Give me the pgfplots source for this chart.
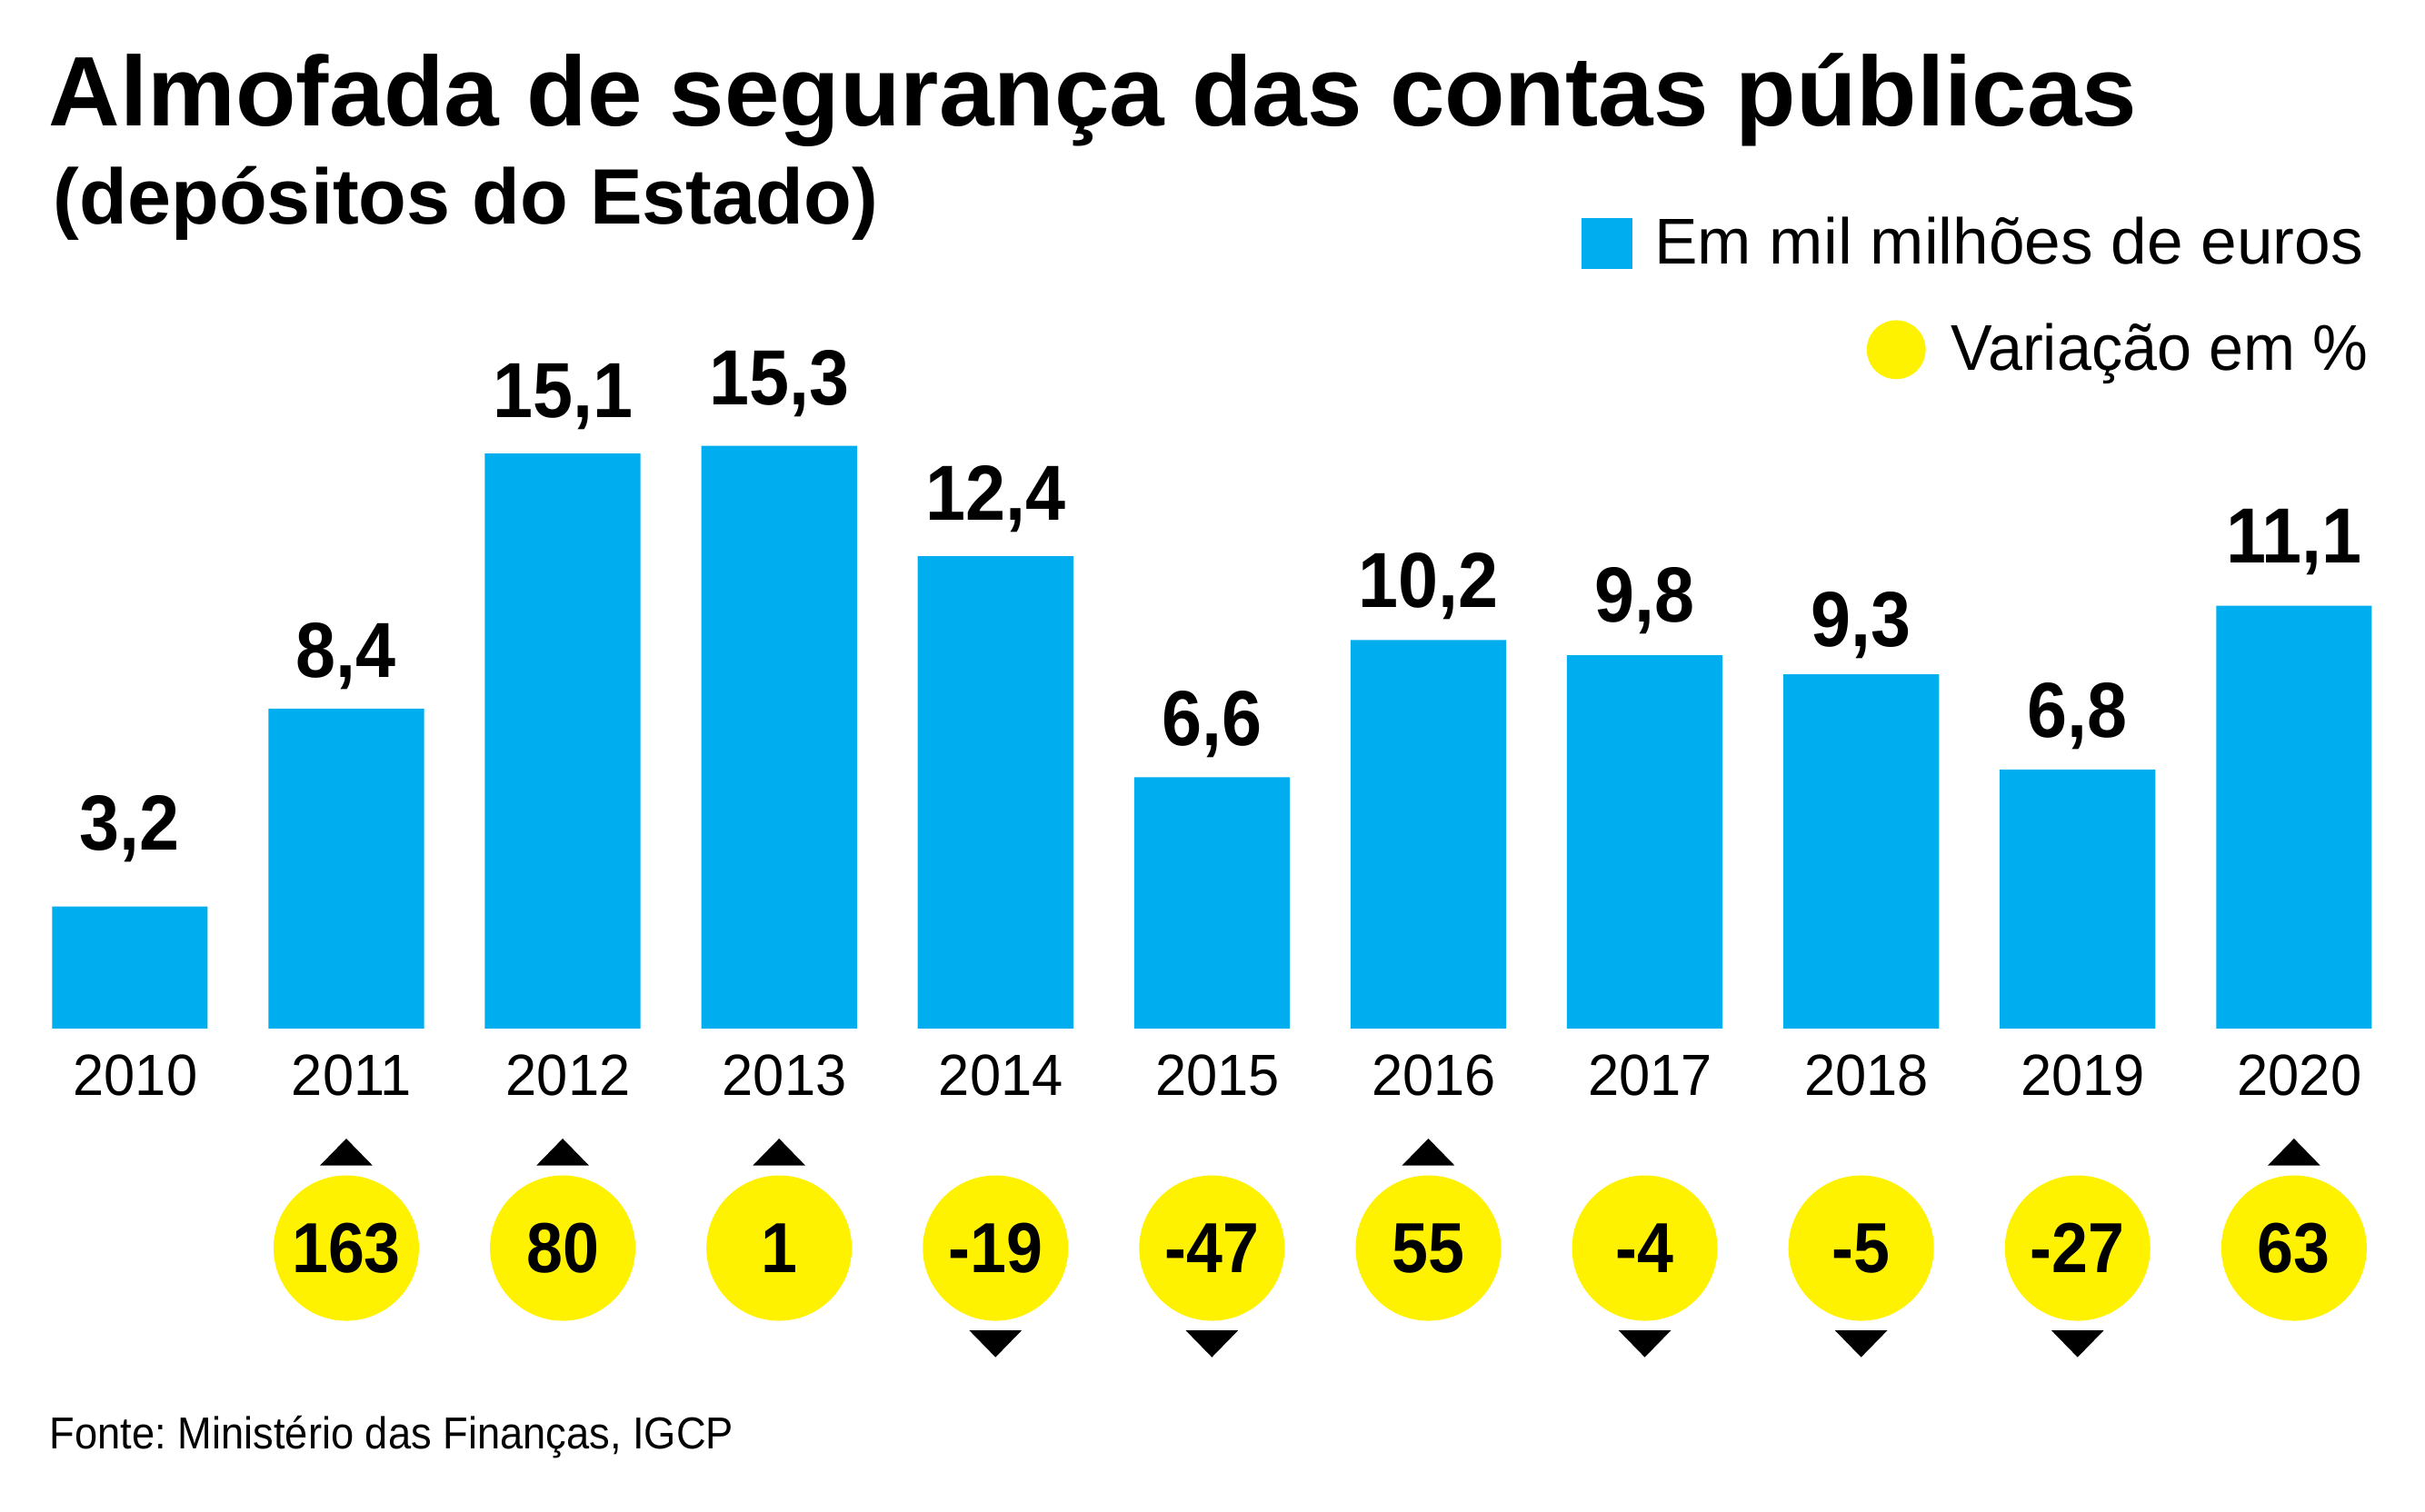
\documentclass[border=0pt]{standalone}
\usepackage{fontspec}
\setmainfont{Liberation Sans}
\newfontfamily\cf[FakeStretch=0.92]{Liberation Sans}
\newfontfamily\lf[FakeStretch=0.96]{Liberation Sans}
\usepackage{pgfplots}
\pgfplotsset{compat=1.18}
\definecolor{barblue}{RGB}{0,174,239}
\definecolor{cyellow}{RGB}{255,242,0}
\pgfplotsset{basegeom/.style={
  at={(0pt,132.8pt)}, anchor=south west,
  width=667pt, height=167.6pt, scale only axis,
  xmin=-0.6, xmax=10.6054, ymin=0, ymax=16,
  clip=false,
  legend style={draw=none, fill=none, inner sep=0pt, outer sep=0pt,
     anchor=east, column sep=6pt,
     nodes={inner sep=0pt, font=\fontsize{17.8}{20}\selectfont}},
  legend cell align=left,
}}
\frenchspacing
\begin{document}
\frenchspacing
\begin{tikzpicture}
\useasboundingbox (0,0) rectangle (667pt,415.75pt);
\node[anchor=base west, inner sep=0pt, font=\bfseries\fontsize{27.2}{30}\selectfont] at (13.25pt,381pt) {Almofada de segurança das contas públicas};
\node[anchor=base west, inner sep=0pt, font=\bfseries\fontsize{21.6}{24}\selectfont] at (14.5pt,354pt) {(depósitos do Estado)};
\node[anchor=base west, inner sep=0pt, font=\cf\fontsize{12.3}{14}\selectfont] at (13.5pt,17.2pt) {\frenchspacing Fonte: Ministério das Finanças, IGCP};

\begin{axis}[basegeom,
  ybar, bar width=42.8pt,
  axis line style={draw=none},
  ytick=\empty,
  xtick={0,1,2,3,4,5,6,7,8,9,10},
  xticklabels={2010,2011,2012,2013,2014,2015,2016,2017,2018,2019,2020},
  major tick length=0pt,
  xticklabel style={font=\lf\fontsize{16}{18}\selectfont, anchor=base, yshift=-18.5pt, xshift=1.5pt},
  legend style={at={(0.9745,1.2883)}},
]
\addplot[draw=none, fill=barblue,
  visualization depends on={\thisrow{off} \as \labeloff},
  nodes near coords={\pgfmathprintnumber[fixed,fixed zerofill,precision=1,use comma,assume math mode=true]{\pgfplotspointmeta}},
  every node near coord/.append style={anchor=base, yshift=\labeloff pt, text=black, font=\cf\bfseries\fontsize{21.5}{23}\selectfont},
  legend image code/.code={\fill[barblue] (0pt,-7pt) rectangle (14pt,7pt);}
] table[x=x, y=y] {
x y off
0 3.2 15.6
1 8.4 8.5
2 15.1 9.9
3 15.3 11.25
4 12.4 10
5 6.6 8.7
6 10.2 9.1
7 9.8 9.25
8 9.3 7.75
9 6.8 8.75
10 11.1 11.9
};
\addlegendentry{Em mil milhões de euros}
\end{axis}

\begin{axis}[basegeom, hide axis,
  legend style={at={(0.9764,1.1142)}, column sep=7pt,
     nodes={inner sep=0pt, font=\lf\fontsize{17.8}{20}\selectfont}},
]
\addplot[only marks, mark=*, mark size=19.8pt, color=cyellow,
  point meta=explicit symbolic, nodes near coords,
  every node near coord/.append style={anchor=center, text=black, font=\cf\bfseries\fontsize{19.5}{21}\selectfont},
  legend image code/.code={\fill[cyellow] (7.9pt,0pt) circle (7.9pt);}
] coordinates {
(1,-5.77) [163] (2,-5.77) [80] (3,-5.77) [1] (4,-5.77) [-19] (5,-5.77) [-47]
(6,-5.77) [55] (7,-5.77) [-4] (8,-5.77) [-5] (9,-5.77) [-27] (10,-5.77) [63]
};
\addlegendentry{Variação em \%}
\addplot[forget plot, only marks, mark=triangle*, mark size=4.6pt, black, mark options={xscale=1.69}]
coordinates {(1,-3.36) (2,-3.36) (3,-3.36) (6,-3.36) (10,-3.36)};
\addplot[forget plot, only marks, mark=triangle*, mark size=4.6pt, black, mark options={xscale=1.69, rotate=180}]
coordinates {(4,-8.17) (5,-8.17) (7,-8.17) (8,-8.17) (9,-8.17)};
\end{axis}
\end{tikzpicture}
\end{document}
